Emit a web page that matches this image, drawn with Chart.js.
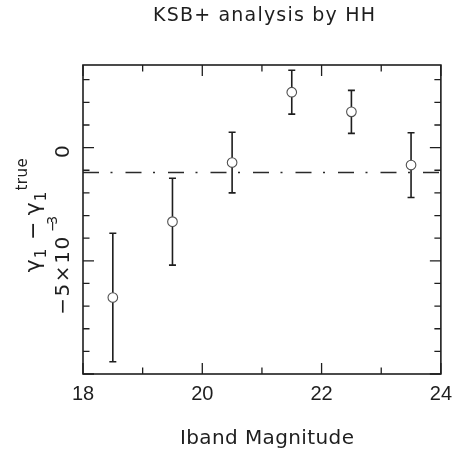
<!DOCTYPE html>
<html>
<head>
<meta charset="utf-8">
<script src="https://cdn.jsdelivr.net/npm/chart.js@4.4.1/dist/chart.umd.min.js"></script>
<style>
  html, body { margin: 0; padding: 0; background: #ffffff; }
  #wrap { width: 460px; height: 449px; }
</style>
</head>
<body>
<div id="wrap"><canvas id="c" width="460" height="449"></canvas></div>
<script>
// ---- data ----
const magnitudes    = [18.5, 19.5, 20.5, 21.5, 22.5, 23.5];
const deltaGamma    = [-0.00662, -0.00327, -0.00066, 0.00245, 0.00158, -0.00077];
const deltaGammaErr = [0.00284, 0.00192, 0.00134, 0.00097, 0.00095, 0.00143];
const referenceLevel = -0.0011;

const xTickValues = [18, 19, 20, 21, 22, 23, 24];
const xTickLabels = ['18', '', '20', '', '22', '', '24'];
const yTickValues = [-0.010, -0.009, -0.008, -0.007, -0.006, -0.005, -0.004, -0.003, -0.002, -0.001, 0, 0.001, 0.002, 0.003];
const yTickLabels = ['', '', '', '', '', '−5×10^−3', '', '', '', '', '0', '', '', ''];
const yMajorTicks = [-0.010, -0.005, 0];
const xMajorTicks = [18, 20, 22, 24];

const titleText = 'KSB+ analysis by HH';
const xTitleText = 'Iband Magnitude';

const INK = '#1e1e1e';
const FONT = '"DejaVu Sans", sans-serif';

function drawFitted(ctx, text, font, x, y, width) {
  ctx.font = font;
  ctx.letterSpacing = '0px';
  const w = ctx.measureText(text).width;
  const n = [...text].length;
  const ls = n > 1 ? (width - w) / (n - 1) : 0;
  ctx.letterSpacing = ls + 'px';
  ctx.textAlign = 'left';
  ctx.fillText(text, x, y);
  ctx.letterSpacing = '0px';
}

const decor = {
  id: 'decor',
  beforeDatasetsDraw(chart) {
    const ctx = chart.ctx;
    const xs = chart.scales.x, ys = chart.scales.y;
    ctx.save();
    ctx.strokeStyle = INK;
    ctx.lineWidth = 1.6;
    magnitudes.forEach((m, i) => {
      const px = xs.getPixelForValue(m);
      const yTop = ys.getPixelForValue(deltaGamma[i] + deltaGammaErr[i]);
      const yBot = ys.getPixelForValue(deltaGamma[i] - deltaGammaErr[i]);
      ctx.beginPath();
      ctx.moveTo(px, yTop); ctx.lineTo(px, yBot);
      ctx.moveTo(px - 3.5, yTop); ctx.lineTo(px + 3.5, yTop);
      ctx.moveTo(px - 3.5, yBot); ctx.lineTo(px + 3.5, yBot);
      ctx.stroke();
    });
    ctx.restore();
  },
  afterDraw(chart) {
    const ctx = chart.ctx;
    const a = chart.chartArea;
    const xs = chart.scales.x, ys = chart.scales.y;
    ctx.save();
    // frame
    ctx.strokeStyle = INK;
    ctx.lineWidth = 1.6;
    ctx.strokeRect(a.left, a.top, a.right - a.left, a.bottom - a.top);
    // inward ticks
    ctx.lineWidth = 1.3;
    ctx.beginPath();
    xTickValues.forEach(v => {
      const px = xs.getPixelForValue(v);
      const len = xMajorTicks.includes(v) ? 11 : 6.5;
      ctx.moveTo(px, a.bottom); ctx.lineTo(px, a.bottom - len);
      ctx.moveTo(px, a.top); ctx.lineTo(px, a.top + len);
    });
    yTickValues.forEach(v => {
      const py = ys.getPixelForValue(v);
      const len = yMajorTicks.some(t => Math.abs(t - v) < 1e-9) ? 11 : 6.5;
      ctx.moveTo(a.left, py); ctx.lineTo(a.left + len, py);
      ctx.moveTo(a.right, py); ctx.lineTo(a.right - len, py);
    });
    ctx.stroke();

    ctx.fillStyle = INK;
    ctx.textBaseline = 'alphabetic';
    // title
    drawFitted(ctx, titleText, '19px ' + FONT, 153, 21, 222);
    // x title
    drawFitted(ctx, xTitleText, '20px ' + FONT, 180, 444, 174);

    // rotated y tick labels
    yTickValues.forEach((v, i) => {
      const lab = yTickLabels[i];
      if (!lab) return;
      const py = ys.getPixelForValue(v) + 4;
      const parts = lab.split('^');
      ctx.save();
      ctx.translate(69, py);
      ctx.rotate(-Math.PI / 2);
      if (parts.length === 1) {
        ctx.font = '20px ' + FONT;
        ctx.textAlign = 'center';
        ctx.fillText(parts[0], 0, 0);
      } else {
        drawFitted(ctx, parts[0], '20px ' + FONT, -50, 0, 78);
        drawFitted(ctx, parts[1], '14px ' + FONT, 33, -12, 16);
      }
      ctx.restore();
    });

    // rotated y-axis title: gamma_1 - gamma_1^true
    ctx.save();
    ctx.translate(40, 216);
    ctx.rotate(-Math.PI / 2);
    const pieces = [
      { t: '\u03B3', f: '22px ', dy: 0, gap: 0 },
      { t: '1', f: '15px ', dy: 6, gap: 1 },
      { t: ' \u2212 ', f: '22px ', dy: 0, gap: 1 },
      { t: '\u03B3', f: '22px ', dy: 0, gap: 0 },
      { t: '1', f: '15px ', dy: 6, gap: 1 },
      { t: 'true', f: '15px ', dy: -13, gap: 1 }
    ];
    let total = 0;
    pieces.forEach(p => { ctx.font = p.f + FONT; p.w = ctx.measureText(p.t).width; total += p.w + p.gap; });
    let u = -total / 2;
    ctx.textAlign = 'left';
    pieces.forEach(p => {
      u += p.gap;
      ctx.font = p.f + FONT;
      ctx.letterSpacing = '0.5px';
      ctx.fillText(p.t, u, p.dy);
      u += p.w;
    });
    ctx.restore();

    ctx.restore();
  }
};

new Chart(document.getElementById('c'), {
  type: 'scatter',
  data: {
    datasets: [
      {
        label: 'KSB+',
        data: magnitudes.map((m, i) => ({ x: m, y: deltaGamma[i] })),
        pointStyle: 'circle',
        pointRadius: 4.8,
        pointBorderWidth: 1.1,
        pointBorderColor: '#505050',
        pointBackgroundColor: '#ffffff',
        showLine: false
      },
      {
        label: 'reference',
        type: 'line',
        data: [{ x: xTickValues[0], y: referenceLevel }, { x: xTickValues[xTickValues.length - 1], y: referenceLevel }],
        borderColor: '#2a2a2a',
        borderWidth: 1.6,
        borderDash: [16, 11.5, 2, 13],
        pointRadius: 0,
        fill: false
      }
    ]
  },
  options: {
    responsive: false,
    devicePixelRatio: 1,
    animation: false,
    layout: { padding: { left: 0, right: 13.5, top: 65, bottom: 0 } },
    plugins: { legend: { display: false }, tooltip: { enabled: false }, title: { display: false } },
    scales: {
      x: {
        type: 'linear',
        min: 18, max: 24,
        grid: { display: false, drawTicks: false },
        border: { display: false },
        afterBuildTicks: s => { s.ticks = xTickValues.map(v => ({ value: v })); },
        ticks: {
          autoSkip: false,
          maxRotation: 0,
          padding: 8,
          color: INK,
          font: { family: '"Liberation Sans", Arial, sans-serif', size: 20 },
          callback: v => xTickLabels[xTickValues.indexOf(v)] || ''
        },
        afterFit: s => { s.height = 75; }
      },
      y: {
        type: 'linear',
        min: -0.010, max: 0.00365,
        grid: { display: false, drawTicks: false },
        border: { display: false },
        ticks: { display: false },
        afterFit: s => { s.width = 83; }
      }
    }
  },
  plugins: [decor]
});
</script>
</body>
</html>
